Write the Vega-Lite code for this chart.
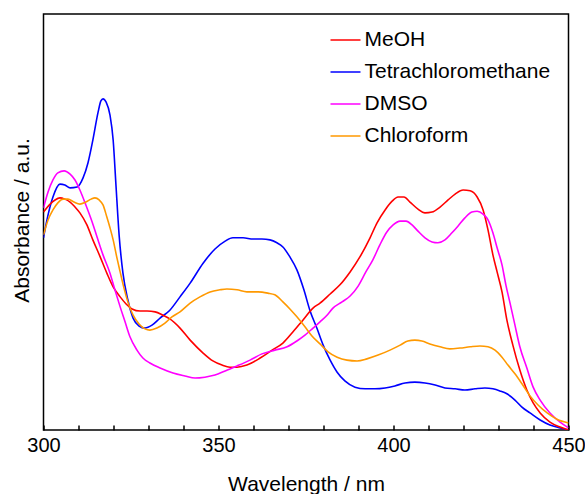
{
  "$schema": "https://vega.github.io/schema/vega-lite/v6.json",
  "width": 525,
  "height": 416,
  "autosize": "none",
  "padding": {"left": 43.5, "top": 14, "right": 16.5, "bottom": 64},
  "config": {
    "font": "Liberation Sans",
    "view": {"stroke": "#000000", "strokeWidth": 1.5},
    "axis": {"grid": false, "domain": false}
  },
  "data": {"values": [
    {"s":"Tetrachloromethane","wl":300.0,"a":0.462},{"s":"Tetrachloromethane","wl":301.3,"a":0.517},{"s":"Tetrachloromethane","wl":302.7,"a":0.560},{"s":"Tetrachloromethane","wl":304.7,"a":0.591},{"s":"Tetrachloromethane","wl":306.1,"a":0.589},{"s":"Tetrachloromethane","wl":307.6,"a":0.582},{"s":"Tetrachloromethane","wl":309.6,"a":0.584},{"s":"Tetrachloromethane","wl":311.3,"a":0.606},{"s":"Tetrachloromethane","wl":312.7,"a":0.642},{"s":"Tetrachloromethane","wl":314.1,"a":0.697},{"s":"Tetrachloromethane","wl":315.6,"a":0.764},{"s":"Tetrachloromethane","wl":316.4,"a":0.791},{"s":"Tetrachloromethane","wl":317.0,"a":0.796},{"s":"Tetrachloromethane","wl":317.9,"a":0.788},{"s":"Tetrachloromethane","wl":319.0,"a":0.757},{"s":"Tetrachloromethane","wl":319.9,"a":0.697},{"s":"Tetrachloromethane","wl":320.7,"a":0.589},{"s":"Tetrachloromethane","wl":321.6,"a":0.469},{"s":"Tetrachloromethane","wl":322.7,"a":0.377},{"s":"Tetrachloromethane","wl":324.1,"a":0.313},{"s":"Tetrachloromethane","wl":325.6,"a":0.269},{"s":"Tetrachloromethane","wl":327.3,"a":0.250},{"s":"Tetrachloromethane","wl":329.0,"a":0.245},{"s":"Tetrachloromethane","wl":331.0,"a":0.252},{"s":"Tetrachloromethane","wl":333.3,"a":0.269},{"s":"Tetrachloromethane","wl":336.1,"a":0.288},{"s":"Tetrachloromethane","wl":339.0,"a":0.320},{"s":"Tetrachloromethane","wl":341.9,"a":0.353},{"s":"Tetrachloromethane","wl":345.6,"a":0.401},{"s":"Tetrachloromethane","wl":349.0,"a":0.435},{"s":"Tetrachloromethane","wl":351.9,"a":0.454},{"s":"Tetrachloromethane","wl":354.1,"a":0.462},{"s":"Tetrachloromethane","wl":357.0,"a":0.462},{"s":"Tetrachloromethane","wl":359.9,"a":0.459},{"s":"Tetrachloromethane","wl":362.4,"a":0.459},{"s":"Tetrachloromethane","wl":364.7,"a":0.457},{"s":"Tetrachloromethane","wl":366.7,"a":0.450},{"s":"Tetrachloromethane","wl":368.4,"a":0.440},{"s":"Tetrachloromethane","wl":370.4,"a":0.416},{"s":"Tetrachloromethane","wl":372.4,"a":0.385},{"s":"Tetrachloromethane","wl":374.4,"a":0.337},{"s":"Tetrachloromethane","wl":376.1,"a":0.288},{"s":"Tetrachloromethane","wl":378.1,"a":0.245},{"s":"Tetrachloromethane","wl":379.9,"a":0.204},{"s":"Tetrachloromethane","wl":381.9,"a":0.168},{"s":"Tetrachloromethane","wl":383.9,"a":0.139},{"s":"Tetrachloromethane","wl":386.1,"a":0.118},{"s":"Tetrachloromethane","wl":389.0,"a":0.103},{"s":"Tetrachloromethane","wl":391.9,"a":0.099},{"s":"Tetrachloromethane","wl":394.7,"a":0.099},{"s":"Tetrachloromethane","wl":397.6,"a":0.101},{"s":"Tetrachloromethane","wl":400.4,"a":0.106},{"s":"Tetrachloromethane","wl":403.3,"a":0.113},{"s":"Tetrachloromethane","wl":406.1,"a":0.115},{"s":"Tetrachloromethane","wl":409.0,"a":0.113},{"s":"Tetrachloromethane","wl":411.9,"a":0.108},{"s":"Tetrachloromethane","wl":414.7,"a":0.101},{"s":"Tetrachloromethane","wl":417.6,"a":0.099},{"s":"Tetrachloromethane","wl":420.4,"a":0.096},{"s":"Tetrachloromethane","wl":423.3,"a":0.099},{"s":"Tetrachloromethane","wl":426.1,"a":0.101},{"s":"Tetrachloromethane","wl":428.4,"a":0.099},{"s":"Tetrachloromethane","wl":430.4,"a":0.094},{"s":"Tetrachloromethane","wl":432.4,"a":0.087},{"s":"Tetrachloromethane","wl":434.7,"a":0.072},{"s":"Tetrachloromethane","wl":436.7,"a":0.055},{"s":"Tetrachloromethane","wl":439.0,"a":0.041},{"s":"Tetrachloromethane","wl":441.9,"a":0.024},{"s":"Tetrachloromethane","wl":444.7,"a":0.012},{"s":"Tetrachloromethane","wl":447.6,"a":0.005},{"s":"Tetrachloromethane","wl":450.0,"a":0.000},
    {"s":"MeOH","wl":300.0,"a":0.524},{"s":"MeOH","wl":301.9,"a":0.543},{"s":"MeOH","wl":303.3,"a":0.553},{"s":"MeOH","wl":304.7,"a":0.558},{"s":"MeOH","wl":306.1,"a":0.555},{"s":"MeOH","wl":307.6,"a":0.548},{"s":"MeOH","wl":309.0,"a":0.536},{"s":"MeOH","wl":310.4,"a":0.522},{"s":"MeOH","wl":312.4,"a":0.493},{"s":"MeOH","wl":314.1,"a":0.457},{"s":"MeOH","wl":316.1,"a":0.418},{"s":"MeOH","wl":318.1,"a":0.377},{"s":"MeOH","wl":319.9,"a":0.344},{"s":"MeOH","wl":321.9,"a":0.320},{"s":"MeOH","wl":323.6,"a":0.303},{"s":"MeOH","wl":325.3,"a":0.291},{"s":"MeOH","wl":327.6,"a":0.286},{"s":"MeOH","wl":329.6,"a":0.286},{"s":"MeOH","wl":331.9,"a":0.284},{"s":"MeOH","wl":334.1,"a":0.276},{"s":"MeOH","wl":336.1,"a":0.267},{"s":"MeOH","wl":339.0,"a":0.245},{"s":"MeOH","wl":341.9,"a":0.216},{"s":"MeOH","wl":345.6,"a":0.185},{"s":"MeOH","wl":348.4,"a":0.166},{"s":"MeOH","wl":351.0,"a":0.156},{"s":"MeOH","wl":353.3,"a":0.151},{"s":"MeOH","wl":355.3,"a":0.151},{"s":"MeOH","wl":358.1,"a":0.156},{"s":"MeOH","wl":361.9,"a":0.173},{"s":"MeOH","wl":365.3,"a":0.192},{"s":"MeOH","wl":368.4,"a":0.209},{"s":"MeOH","wl":371.3,"a":0.236},{"s":"MeOH","wl":374.1,"a":0.264},{"s":"MeOH","wl":377.0,"a":0.293},{"s":"MeOH","wl":379.0,"a":0.305},{"s":"MeOH","wl":381.9,"a":0.327},{"s":"MeOH","wl":384.7,"a":0.349},{"s":"MeOH","wl":387.6,"a":0.380},{"s":"MeOH","wl":390.4,"a":0.416},{"s":"MeOH","wl":393.3,"a":0.462},{"s":"MeOH","wl":395.3,"a":0.498},{"s":"MeOH","wl":397.6,"a":0.529},{"s":"MeOH","wl":399.6,"a":0.550},{"s":"MeOH","wl":401.3,"a":0.560},{"s":"MeOH","wl":403.0,"a":0.560},{"s":"MeOH","wl":404.7,"a":0.548},{"s":"MeOH","wl":407.0,"a":0.531},{"s":"MeOH","wl":409.0,"a":0.522},{"s":"MeOH","wl":411.0,"a":0.524},{"s":"MeOH","wl":413.3,"a":0.536},{"s":"MeOH","wl":415.6,"a":0.553},{"s":"MeOH","wl":417.6,"a":0.567},{"s":"MeOH","wl":419.9,"a":0.577},{"s":"MeOH","wl":421.9,"a":0.575},{"s":"MeOH","wl":423.9,"a":0.560},{"s":"MeOH","wl":425.6,"a":0.529},{"s":"MeOH","wl":427.0,"a":0.481},{"s":"MeOH","wl":428.4,"a":0.421},{"s":"MeOH","wl":429.6,"a":0.380},{"s":"MeOH","wl":431.0,"a":0.332},{"s":"MeOH","wl":432.4,"a":0.264},{"s":"MeOH","wl":434.1,"a":0.204},{"s":"MeOH","wl":436.1,"a":0.144},{"s":"MeOH","wl":438.1,"a":0.096},{"s":"MeOH","wl":439.9,"a":0.065},{"s":"MeOH","wl":441.9,"a":0.041},{"s":"MeOH","wl":444.7,"a":0.019},{"s":"MeOH","wl":447.6,"a":0.007},{"s":"MeOH","wl":450.0,"a":0.000},
    {"s":"DMSO","wl":300.0,"a":0.534},{"s":"DMSO","wl":301.3,"a":0.572},{"s":"DMSO","wl":302.7,"a":0.601},{"s":"DMSO","wl":304.1,"a":0.618},{"s":"DMSO","wl":305.9,"a":0.623},{"s":"DMSO","wl":307.6,"a":0.615},{"s":"DMSO","wl":309.0,"a":0.601},{"s":"DMSO","wl":310.4,"a":0.577},{"s":"DMSO","wl":312.1,"a":0.541},{"s":"DMSO","wl":313.9,"a":0.500},{"s":"DMSO","wl":315.3,"a":0.464},{"s":"DMSO","wl":317.0,"a":0.421},{"s":"DMSO","wl":319.0,"a":0.377},{"s":"DMSO","wl":320.4,"a":0.337},{"s":"DMSO","wl":321.9,"a":0.296},{"s":"DMSO","wl":323.3,"a":0.260},{"s":"DMSO","wl":324.7,"a":0.224},{"s":"DMSO","wl":326.7,"a":0.192},{"s":"DMSO","wl":328.4,"a":0.173},{"s":"DMSO","wl":330.4,"a":0.161},{"s":"DMSO","wl":333.3,"a":0.149},{"s":"DMSO","wl":337.0,"a":0.137},{"s":"DMSO","wl":340.4,"a":0.130},{"s":"DMSO","wl":343.3,"a":0.125},{"s":"DMSO","wl":346.1,"a":0.127},{"s":"DMSO","wl":349.0,"a":0.132},{"s":"DMSO","wl":351.9,"a":0.142},{"s":"DMSO","wl":355.3,"a":0.154},{"s":"DMSO","wl":359.0,"a":0.168},{"s":"DMSO","wl":362.4,"a":0.183},{"s":"DMSO","wl":366.1,"a":0.192},{"s":"DMSO","wl":369.6,"a":0.200},{"s":"DMSO","wl":372.4,"a":0.214},{"s":"DMSO","wl":374.7,"a":0.228},{"s":"DMSO","wl":377.0,"a":0.245},{"s":"DMSO","wl":379.0,"a":0.260},{"s":"DMSO","wl":381.0,"a":0.276},{"s":"DMSO","wl":382.7,"a":0.293},{"s":"DMSO","wl":385.3,"a":0.308},{"s":"DMSO","wl":387.6,"a":0.322},{"s":"DMSO","wl":389.9,"a":0.346},{"s":"DMSO","wl":392.1,"a":0.380},{"s":"DMSO","wl":394.1,"a":0.409},{"s":"DMSO","wl":396.1,"a":0.445},{"s":"DMSO","wl":398.1,"a":0.476},{"s":"DMSO","wl":399.9,"a":0.493},{"s":"DMSO","wl":401.9,"a":0.502},{"s":"DMSO","wl":403.6,"a":0.502},{"s":"DMSO","wl":405.3,"a":0.493},{"s":"DMSO","wl":407.0,"a":0.478},{"s":"DMSO","wl":409.0,"a":0.462},{"s":"DMSO","wl":411.0,"a":0.452},{"s":"DMSO","wl":412.7,"a":0.450},{"s":"DMSO","wl":414.7,"a":0.457},{"s":"DMSO","wl":416.7,"a":0.474},{"s":"DMSO","wl":418.4,"a":0.490},{"s":"DMSO","wl":420.4,"a":0.510},{"s":"DMSO","wl":422.4,"a":0.524},{"s":"DMSO","wl":423.9,"a":0.526},{"s":"DMSO","wl":425.6,"a":0.519},{"s":"DMSO","wl":427.0,"a":0.505},{"s":"DMSO","wl":428.4,"a":0.474},{"s":"DMSO","wl":429.6,"a":0.438},{"s":"DMSO","wl":431.0,"a":0.397},{"s":"DMSO","wl":432.1,"a":0.349},{"s":"DMSO","wl":433.3,"a":0.305},{"s":"DMSO","wl":434.7,"a":0.252},{"s":"DMSO","wl":436.1,"a":0.200},{"s":"DMSO","wl":438.1,"a":0.149},{"s":"DMSO","wl":439.9,"a":0.103},{"s":"DMSO","wl":441.9,"a":0.072},{"s":"DMSO","wl":444.7,"a":0.041},{"s":"DMSO","wl":447.6,"a":0.019},{"s":"DMSO","wl":450.0,"a":0.005},
    {"s":"Chloroform","wl":300.0,"a":0.469},{"s":"Chloroform","wl":301.3,"a":0.505},{"s":"Chloroform","wl":302.7,"a":0.529},{"s":"Chloroform","wl":304.1,"a":0.546},{"s":"Chloroform","wl":305.6,"a":0.555},{"s":"Chloroform","wl":307.0,"a":0.555},{"s":"Chloroform","wl":308.7,"a":0.548},{"s":"Chloroform","wl":310.4,"a":0.543},{"s":"Chloroform","wl":312.1,"a":0.548},{"s":"Chloroform","wl":313.6,"a":0.555},{"s":"Chloroform","wl":314.7,"a":0.558},{"s":"Chloroform","wl":315.9,"a":0.553},{"s":"Chloroform","wl":317.0,"a":0.541},{"s":"Chloroform","wl":318.1,"a":0.512},{"s":"Chloroform","wl":319.0,"a":0.486},{"s":"Chloroform","wl":319.9,"a":0.457},{"s":"Chloroform","wl":321.0,"a":0.413},{"s":"Chloroform","wl":321.9,"a":0.380},{"s":"Chloroform","wl":323.0,"a":0.341},{"s":"Chloroform","wl":324.1,"a":0.308},{"s":"Chloroform","wl":325.6,"a":0.276},{"s":"Chloroform","wl":327.3,"a":0.255},{"s":"Chloroform","wl":329.0,"a":0.243},{"s":"Chloroform","wl":330.4,"a":0.240},{"s":"Chloroform","wl":332.4,"a":0.245},{"s":"Chloroform","wl":334.7,"a":0.257},{"s":"Chloroform","wl":336.7,"a":0.272},{"s":"Chloroform","wl":339.0,"a":0.284},{"s":"Chloroform","wl":341.9,"a":0.305},{"s":"Chloroform","wl":344.7,"a":0.320},{"s":"Chloroform","wl":347.6,"a":0.332},{"s":"Chloroform","wl":350.4,"a":0.337},{"s":"Chloroform","wl":352.4,"a":0.339},{"s":"Chloroform","wl":355.3,"a":0.337},{"s":"Chloroform","wl":358.1,"a":0.332},{"s":"Chloroform","wl":361.3,"a":0.332},{"s":"Chloroform","wl":364.1,"a":0.329},{"s":"Chloroform","wl":366.1,"a":0.325},{"s":"Chloroform","wl":368.4,"a":0.308},{"s":"Chloroform","wl":370.4,"a":0.291},{"s":"Chloroform","wl":372.4,"a":0.272},{"s":"Chloroform","wl":374.7,"a":0.248},{"s":"Chloroform","wl":376.7,"a":0.226},{"s":"Chloroform","wl":379.0,"a":0.207},{"s":"Chloroform","wl":381.3,"a":0.188},{"s":"Chloroform","wl":383.9,"a":0.175},{"s":"Chloroform","wl":386.7,"a":0.168},{"s":"Chloroform","wl":389.6,"a":0.166},{"s":"Chloroform","wl":392.4,"a":0.171},{"s":"Chloroform","wl":395.6,"a":0.180},{"s":"Chloroform","wl":399.0,"a":0.192},{"s":"Chloroform","wl":401.9,"a":0.204},{"s":"Chloroform","wl":404.1,"a":0.214},{"s":"Chloroform","wl":406.1,"a":0.216},{"s":"Chloroform","wl":408.1,"a":0.214},{"s":"Chloroform","wl":410.4,"a":0.207},{"s":"Chloroform","wl":413.3,"a":0.200},{"s":"Chloroform","wl":416.1,"a":0.195},{"s":"Chloroform","wl":419.0,"a":0.197},{"s":"Chloroform","wl":421.9,"a":0.200},{"s":"Chloroform","wl":424.7,"a":0.202},{"s":"Chloroform","wl":427.0,"a":0.200},{"s":"Chloroform","wl":429.0,"a":0.192},{"s":"Chloroform","wl":431.0,"a":0.175},{"s":"Chloroform","wl":432.7,"a":0.156},{"s":"Chloroform","wl":434.7,"a":0.135},{"s":"Chloroform","wl":436.7,"a":0.111},{"s":"Chloroform","wl":439.0,"a":0.082},{"s":"Chloroform","wl":441.3,"a":0.060},{"s":"Chloroform","wl":443.9,"a":0.041},{"s":"Chloroform","wl":446.7,"a":0.026},{"s":"Chloroform","wl":450.0,"a":0.017}
  ]},
  "mark": {"type": "line", "interpolate": "monotone", "strokeWidth": 1.6, "clip": true},
  "encoding": {
    "x": {
      "field": "wl", "type": "quantitative",
      "scale": {"domain": [300, 450], "nice": false, "zero": false},
      "axis": {
        "title": "Wavelength / nm",
        "values": [300,310,320,330,340,350,360,370,380,390,400,410,420,430,440,450],
        "labelExpr": "datum.value % 50 == 0 ? datum.label : ''",
        "tickSize": -5, "tickColor": "#000000", "tickWidth": 1.5,
        "labelFontSize": 20, "labelColor": "#000000", "labelFlush": false,
        "labelBaseline": "alphabetic", "labelPadding": 26,
        "titleFontSize": 21, "titleFontWeight": "normal", "titleColor": "#000000",
        "titleBaseline": "alphabetic", "titleY": 60
      }
    },
    "y": {
      "field": "a", "type": "quantitative",
      "scale": {"domain": [0, 1], "nice": false},
      "axis": {
        "title": "Absorbance / a.u.",
        "labels": false, "ticks": false,
        "titleFontSize": 21, "titleFontWeight": "normal", "titleColor": "#000000",
        "titleAngle": 270, "titleAlign": "center", "titleBaseline": "alphabetic",
        "titleX": -15.5, "titleY": 206
      }
    },
    "color": {
      "field": "s", "type": "nominal",
      "scale": {"domain": ["MeOH", "Tetrachloromethane", "DMSO", "Chloroform"], "range": ["#ff0000", "#0000ff", "#ff00ff", "#ff9900"]},
      "legend": {
        "title": null, "orient": "none", "legendX": 286, "legendY": 10,
        "symbolType": "stroke", "symbolSize": 900, "symbolStrokeWidth": 1.5,
        "labelFontSize": 21, "labelColor": "#000000", "labelOffset": 3, "labelLimit": 400,
        "rowPadding": 6, "padding": 0
      }
    }
  }
}
